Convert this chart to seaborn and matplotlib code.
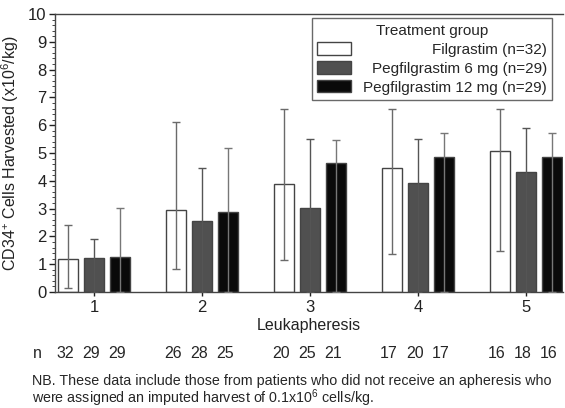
# Bar chart of CD34+ cells harvested per leukapheresis, by treatment group.
import matplotlib
matplotlib.use("Agg")
import matplotlib.pyplot as plt
import matplotlib.transforms as mtransforms
from matplotlib.patches import Patch
from matplotlib.ticker import MultipleLocator
import seaborn as sns
import pandas as pd

# Values.
leukapheresis = ["1", "2", "3", "4", "5"]
groups = ["Filgrastim (n=32)", "Pegfilgrastim 6 mg (n=29)", "Pegfilgrastim 12 mg (n=29)"]
colors = ["#ffffff", "#505050", "#0a0a0a"]

filgrastim = [1.20, 2.95, 3.87, 4.45, 5.06]
peg_6mg = [1.21, 2.55, 3.01, 3.91, 4.32]
peg_12mg = [1.27, 2.87, 4.63, 4.87, 4.87]

# Error bar ends (upper / lower).
filgrastim_hi = [2.42, 6.10, 6.58, 6.57, 6.57]
filgrastim_lo = [0.14, 0.82, 1.15, 1.36, 1.46]
peg_6mg_hi = [1.92, 4.46, 5.49, 5.49, 5.89]
peg_6mg_lo = [0.0, 0.0, 0.0, 0.0, 0.0]
peg_12mg_hi = [3.03, 5.17, 5.47, 5.73, 5.73]
peg_12mg_lo = [0.0, 0.0, 0.0, 0.0, 0.0]

# Patients per bar.
n_filgrastim = [32, 26, 20, 17, 16]
n_peg_6mg = [29, 28, 25, 20, 18]
n_peg_12mg = [29, 25, 21, 17, 16]

sns.set_style("ticks")
plt.rcParams["font.family"] = ["Liberation Sans", "DejaVu Sans"]
plt.rcParams["mathtext.fontset"] = "custom"
plt.rcParams["mathtext.rm"] = "Liberation Sans"
plt.rcParams["mathtext.it"] = "Liberation Sans"

df = pd.DataFrame({
    "leuk": leukapheresis * 3,
    "group": [g for g in groups for _ in leukapheresis],
    "value": filgrastim + peg_6mg + peg_12mg,
})

fig = plt.figure(figsize=(5.65, 4.08), dpi=100)
ax = fig.add_axes([55 / 565, 116 / 408, 508 / 565, 278 / 408])

sns.barplot(data=df, x="leuk", y="value", hue="group", hue_order=groups,
            order=leukapheresis, palette=dict(zip(groups, colors)),
            width=0.72, gap=0.23, errorbar=None, edgecolor="#444444",
            linewidth=1, legend=False, ax=ax)

# Error bars on top of each bar, placed at the bar centres.
his = [filgrastim_hi, peg_6mg_hi, peg_12mg_hi]
los = [filgrastim_lo, peg_6mg_lo, peg_12mg_lo]
vals = [filgrastim, peg_6mg, peg_12mg]
ns = [n_filgrastim, n_peg_6mg, n_peg_12mg]
err_colors = ["#6a6a6a", "#555555", "#777777"]
trans = mtransforms.blended_transform_factory(ax.transData, fig.transFigure)
bar_containers = list(ax.containers)
for i, cont in enumerate(bar_containers):
    bars = sorted(cont.patches, key=lambda b: b.get_x())
    xs = [b.get_x() + b.get_width() / 2 for b in bars]
    lower = [v - lo for v, lo in zip(vals[i], los[i])]
    upper = [hi - v for v, hi in zip(vals[i], his[i])]
    ax.errorbar(xs, vals[i], yerr=[lower, upper], fmt="none",
                ecolor=err_colors[i], elinewidth=1, capsize=3, capthick=1, zorder=3)
    for x, n in zip(xs, ns[i]):
        ax.text(x - 0.03, 1 - 353 / 408, str(n), transform=trans, ha="center",
                va="center", fontsize=11.5)

ax.set_xlim(-0.361, 4.34)
ax.set_ylim(0, 10)
ax.yaxis.set_major_locator(MultipleLocator(1))
ax.yaxis.set_minor_locator(MultipleLocator(0.2))
ax.tick_params(axis="both", labelsize=12, colors="#222222", width=1)
ax.tick_params(axis="y", which="major", length=4, pad=2)
ax.tick_params(axis="y", which="minor", length=2)
ax.tick_params(axis="x", length=3, pad=3)
for side in ["left", "top", "bottom"]:
    ax.spines[side].set_color("#444444")
    ax.spines[side].set_linewidth(1)
ax.spines["right"].set_visible(False)

ax.set_xlabel("Leukapheresis", fontsize=11.5, labelpad=2, color="#222222")
ax.set_ylabel(r"CD34$^{+}$ Cells Harvested (x10$^{6}$/kg)", fontsize=11.5,
              labelpad=5, color="#222222")

# Legend with the labels right-aligned.
handles = [Patch(facecolor=c, edgecolor="#444444", linewidth=1) for c in colors]
leg = ax.legend(handles, groups, title="Treatment group", loc="upper right",
                bbox_to_anchor=(0.985, 0.995), fontsize=11, title_fontsize=11,
                frameon=True, fancybox=False, edgecolor="#444444",
                handlelength=2.2, handleheight=0.85, labelspacing=0.3,
                borderpad=0.35, handletextpad=0.8, borderaxespad=0.2)
leg.get_frame().set_linewidth(1)
fig.canvas.draw()
renderer = fig.canvas.get_renderer()
widths = [t.get_window_extent(renderer).width for t in leg.get_texts()]
for t, w in zip(leg.get_texts(), widths):
    t.set_position((max(widths) - w, 0))

fig.text(33 / 565, 1 - 353 / 408, "n", ha="left", va="center", fontsize=11.5)
fig.text(32 / 565, 1 - 385 / 408,
         "NB. These data include those from patients who did not receive an apheresis who",
         ha="left", va="baseline", fontsize=10.3)
fig.text(32 / 565, 1 - 403 / 408,
         r"were assigned an imputed harvest of 0.1x10$^{6}$ cells/kg.",
         ha="left", va="baseline", fontsize=10.3)

fig.savefig("out.png", dpi=100)
